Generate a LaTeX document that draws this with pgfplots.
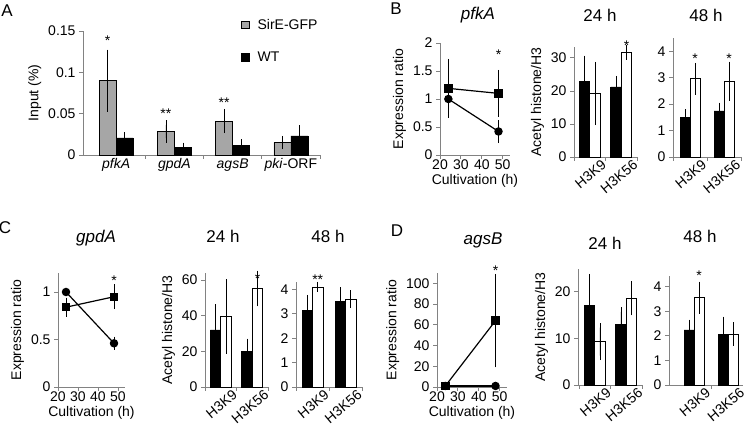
\documentclass[border=0pt]{standalone}
\usepackage{fontspec}
\setmainfont{Liberation Sans}
\usepackage{pgfplots}
\pgfplotsset{compat=1.18}
\definecolor{bargray}{RGB}{166,166,166}
\definecolor{axisgray}{RGB}{130,130,130}
\newcommand\fs{\fontsize{14}{16}\selectfont}
\newcommand\ft{\fontsize{17}{20}\selectfont}
\pgfplotsset{
 base/.style={scale only axis, axis lines*=left,
   axis line style={draw=axisgray, line width=0.8pt, -},
   every tick/.style={draw=axisgray, line width=0.8pt},
   tick align=outside, major tick length=4pt, xtick pos=bottom, ytick pos=left,
   font=\fs, /pgf/number format/assume math mode=true, clip=false, ymin=0,
   scaled y ticks=false, tick label style={font=\fs}, label style={font=\fs}},
 linep/.style={base, xmin=20, xmax=53.5, xtick={20,30,40,50},
   xlabel={Cultivation (h)}, ylabel={Expression ratio}, xticklabel style={inner sep=1pt}},
 barp/.style={base, ybar=0pt, bar width=10.5pt, xtick={0.5,1.5,2.5}, xticklabels={},
   extra x ticks={1,2}, extra x tick labels={H3K9,H3K56},
   extra x tick style={major tick length=0pt, xticklabel style={font=\fs, xshift=11pt, yshift=-2pt, rotate=40, anchor=north east, inner sep=0pt}}},
 errs/.style={error bars/.cd, y dir=both, y explicit,
   error bar style={black, line width=0.8pt},
   error mark options={black, line width=0.8pt, mark size=4.5pt}, /pgfplots/.cd},
 errl/.style={error bars/.cd, y dir=both, y explicit,
   error bar style={black, line width=0.8pt},
   error mark options={black, line width=0.8pt, mark size=3.8pt}, /pgfplots/.cd},
 blk/.style={fill=black, draw=black, line width=0.6pt, errs},
 wht/.style={fill=white, draw=black, line width=0.6pt, errs},
 gry/.style={fill=bargray, draw=black, line width=0.6pt, errs},
 lcirc/.style={black, line width=1.2pt, mark=*, mark size=3.6pt, mark options={solid}, errl},
 lsq/.style={black, line width=1.2pt, mark=square*, mark size=3.6pt, mark options={solid}, errl},
}
\begin{document}
\begin{tikzpicture}
\path[use as bounding box] (0,0) rectangle (745pt,428pt);

% ---------------- Panel A
\begin{axis}[base, at={(83pt,273pt)}, width=237pt, height=124pt,
  xmin=0.43, xmax=4.5, ymax=0.15, ytick={0,0.05,0.1,0.15}, yticklabels={0,0.05,0.1,0.15},
  ybar=0pt, bar width=17pt, xtick={1.5,2.5,3.5,4.5}, xticklabels={},
  extra x ticks={1,2,3,4},
  extra x tick labels={\textit{pfkA},\textit{gpdA},\textit{agsB},\textit{pki}-ORF},
  extra x tick style={major tick length=0pt},
  ylabel={Input (\%)},
  legend style={at={(0.655,1.13)}, anchor=north west, draw=none, fill=none, font=\fs,
    row sep=17pt},
  legend cell align=left]
\addplot[gry, legend image code/.code={\draw[fill=bargray,draw=black,line width=0.6pt] (0pt,-3.8pt) rectangle (7.6pt,3.8pt);}]
  coordinates {(1,0.090)+-(0,0.032) (2,0.0284)+-(0,0.008) (3,0.041)+-(0,0.0092) (4,0.0152)+-(0,0.0026)};
\addplot[blk, legend image code/.code={\draw[fill=black,draw=black,line width=0.6pt] (0pt,-3.8pt) rectangle (7.6pt,3.8pt);}]
  coordinates {(1,0.0208)+-(0,0.001) (2,0.0088)+-(0,0.0008) (3,0.0112)+-(0,0.0024) (4,0.0232)+-(0,0.0076)};
\legend{\hspace{6pt}SirE-GFP,\hspace{6pt}WT}
\node[anchor=base, xshift=-8.5pt, font=\fs] at (axis cs:1,0.132) {*};
\node[anchor=base, xshift=-8.5pt, font=\fs] at (axis cs:2,0.0447) {**};
\node[anchor=base, xshift=-8.5pt, font=\fs] at (axis cs:3,0.057) {**};
\end{axis}

% ---------------- Panel B
\begin{axis}[linep, at={(440pt,273pt)}, width=70pt, height=112pt, ymax=2, ytick={0,0.5,1,1.5,2}]
\addplot[lsq] coordinates {(24,1.19)+-(0,0.46) (48,1.1)+-(0,0.35)};
\addplot[lcirc] coordinates {(24,1.0)+-(0,0) (48,0.42)+-(0,0.14)};
\node[anchor=base, font=\fs] at (axis cs:48,1.70) {*};
\end{axis}
\begin{axis}[barp, at={(574pt,271pt)}, width=63pt, height=110pt, xmin=0.5, xmax=2.5,
  ymax=33.3, ytick={0,10,20,30}, ylabel={Acetyl histone/H3}]
\addplot[blk] coordinates {(1,23.0)+-(0,6.3) (2,21.2)+-(0,2.0)};
\addplot[wht] coordinates {(1,19.2)+-(0,8.2) (2,31.6)+-(0,0.85)};
\node[anchor=base, xshift=5.25pt, font=\fs] at (axis cs:2,32.1) {*};
\end{axis}
\begin{axis}[barp, at={(673pt,271pt)}, width=68pt, height=119pt, xmin=0.5, xmax=2.5,
  ymax=4.5, ytick={0,1,2,3,4}, bar width=10pt]
\addplot[blk] coordinates {(1,1.51)+-(0,0.13) (2,1.74)+-(0,0.15)};
\addplot[wht] coordinates {(1,2.96)+-(0,0.43) (2,2.87)+-(0,0.57)};
\node[anchor=base, xshift=5pt, font=\fs] at (axis cs:1,3.55) {*};
\node[anchor=base, xshift=5pt, font=\fs] at (axis cs:2,3.55) {*};
\end{axis}

% ---------------- Panel C
\begin{axis}[linep, at={(58pt,41pt)}, width=67pt, height=114pt, ymax=1.2, ytick={0,0.5,1}]
\addplot[lsq] coordinates {(24,0.84)+-(0,0.06) (48,0.95)+-(0,0.09)};
\addplot[lcirc] coordinates {(24,1.0)+-(0,0) (48,0.46)+-(0,0.03)};
\node[anchor=base, font=\fs] at (axis cs:48,1.07) {*};
\end{axis}
\begin{axis}[barp, at={(205pt,41pt)}, width=63pt, height=114pt, xmin=0.5, xmax=2.5,
  ymax=64, ytick={0,20,40,60}, ylabel={Acetyl histone/H3}]
\addplot[blk] coordinates {(1,32.0)+-(0,11.8) (2,19.9)+-(0,4.7)};
\addplot[wht] coordinates {(1,39.5)+-(0,18.4) (2,55.3)+-(0,7.5)};
\node[anchor=base, xshift=5.25pt, font=\fs] at (axis cs:2,58.2) {*};
\end{axis}
\begin{axis}[barp, at={(296pt,41pt)}, width=66pt, height=105pt, xmin=0.5, xmax=2.5,
  ymax=4.3, ytick={0,1,2,3,4}]
\addplot[blk] coordinates {(1,3.14)+-(0,0.45) (2,3.49)+-(0,0.41)};
\addplot[wht] coordinates {(1,4.1)+-(0,0.02) (2,3.59)+-(0,0.18)};
\node[anchor=base, xshift=5.25pt, font=\fs] at (axis cs:1,4.2) {**};
\end{axis}

% ---------------- Panel D
\begin{axis}[linep, at={(437pt,41pt)}, width=70pt, height=114pt, ymax=110, ytick={0,20,40,60,80,100}]
\addplot[lsq] coordinates {(24,1.0)+-(0,0) (48,64)+-(0,41.5)};
\addplot[lcirc] coordinates {(24,1.0)+-(0,0) (48,1.0)+-(0,0.2)};
\node[anchor=base, font=\fs] at (axis cs:48,107.7) {*};
\end{axis}
\begin{axis}[barp, at={(578pt,43pt)}, width=64pt, height=116pt, xmin=0.47, xmax=2.5,
  ymax=24.9, ytick={0,10,20}, ylabel={Acetyl histone/H3}]
\addplot[blk] coordinates {(1,17.0)+-(0,5.9) (2,13.0)+-(0,2.7)};
\addplot[wht] coordinates {(1,9.3)+-(0,3.0) (2,18.6)+-(0,2.7)};
\end{axis}
\begin{axis}[barp, at={(669pt,43pt)}, width=74pt, height=109pt, xmin=0.26, xmax=2.44,
  xtick={1.5}, ymax=4.43, ytick={0,1,2,3,4}, bar width=10pt]
\addplot[blk] coordinates {(1,2.24)+-(0,0.23) (2,2.07)+-(0,0.53)};
\addplot[wht] coordinates {(1,3.55)+-(0,0.47) (2,2.07)+-(0,0.29)};
\node[anchor=base, xshift=5pt, font=\fs] at (axis cs:1,4.23) {*};
\end{axis}

% ---------------- Panel letters and titles
\node[font=\ft] at (7pt,417pt) {A};
\node[font=\ft] at (396pt,419pt) {B};
\node[font=\ft] at (5pt,200pt) {C};
\node[font=\ft] at (397pt,197pt) {D};
\node[font=\ft] at (478pt,413pt) {\textit{pfkA}};
\node[font=\ft] at (600pt,413pt) {24 h};
\node[font=\ft] at (706pt,413pt) {48 h};
\node[font=\ft] at (96pt,190pt) {\textit{gpdA}};
\node[font=\ft] at (223pt,192pt) {24 h};
\node[font=\ft] at (328pt,192pt) {48 h};
\node[font=\ft] at (483pt,188pt) {\textit{agsB}};
\node[font=\ft] at (605pt,185pt) {24 h};
\node[font=\ft] at (700pt,192pt) {48 h};
\end{tikzpicture}
\end{document}
